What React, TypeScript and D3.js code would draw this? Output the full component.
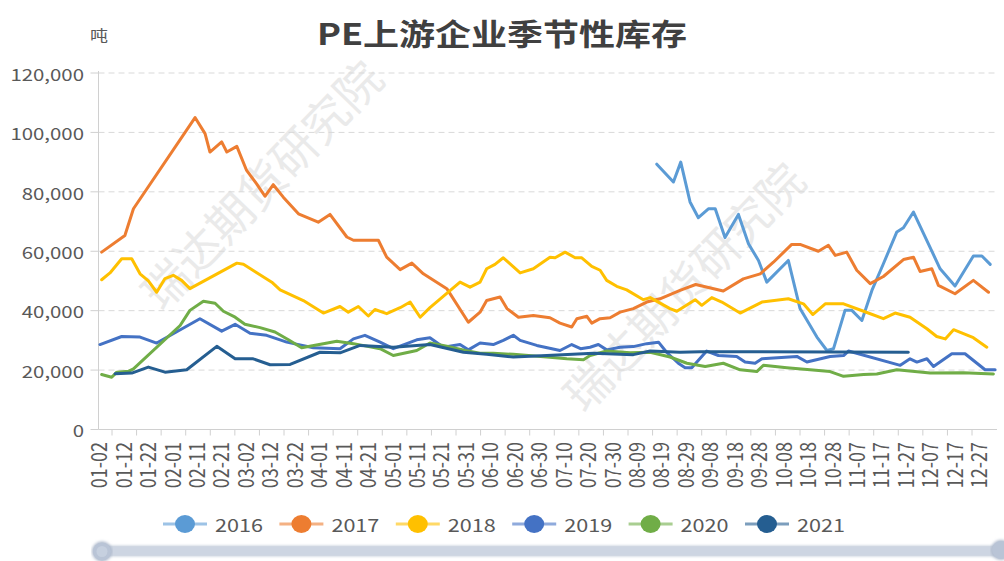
import React from 'react';
import * as d3 from 'd3';

const TITLE = 'PE上游企业季节性库存';
const UNIT = '吨';
const WATERMARK = '瑞达期货研究院';
const YEARS = ['2016', '2017', '2018', '2019', '2020', '2021'];
const COLORS = ['#5b9bd5', '#ed7d31', '#ffc000', '#4472c4', '#70ad47', '#255e91'];
const X_LABELS = ['01-02', '01-12', '01-22', '02-01', '02-11', '02-21', '03-02', '03-12', '03-22', '04-01', '04-11', '04-21', '05-01', '05-11', '05-21', '05-31', '06-10', '06-20', '06-30', '07-10', '07-20', '07-30', '08-09', '08-19', '08-29', '09-08', '09-18', '09-28', '10-08', '10-18', '10-28', '11-07', '11-17', '11-27', '12-07', '12-17', '12-27'];
const Y_TICKS = [0, 20000, 40000, 60000, 80000, 100000, 120000];

// [day offset from 01-02, tons]
const S2016: [number, number][] = [[228.6, 89300], [235.4, 83300], [238.4, 90000], [242.2, 76600], [245.6, 71300], [249.7, 74300], [252.5, 74300], [256.5, 64600], [262, 72400], [266.1, 62500], [270.2, 56900], [273.6, 49600], [282.4, 56900], [287.2, 40700], [294.1, 31100], [298.2, 26600], [300.9, 27200], [305.6, 40100], [308.4, 40100], [312.5, 36700], [316.6, 46800], [321.3, 55800], [326.8, 66500], [329.5, 67900], [333.6, 73200], [344.5, 54100], [350.6, 48300], [358.1, 58400], [361.6, 58400], [365, 55600]];
const S2017: [number, number][] = [[1.5, 59700], [11, 65300], [14.5, 74300], [39.7, 105000], [43.8, 99600], [45.8, 93400], [50.6, 96800], [52.7, 93400], [56.8, 95300], [60.8, 87200], [64.9, 82700], [68.3, 78500], [71.7, 82400], [75.8, 78200], [82, 72600], [90.1, 69800], [94.9, 72400], [101.8, 64800], [104.5, 63700], [114.7, 63700], [118.1, 58000], [123.6, 53800], [128.4, 56000], [133.1, 52400], [142.7, 47400], [151.5, 36100], [156.3, 39500], [159, 43400], [164.5, 44600], [167.3, 40700], [172, 37800], [178.1, 38400], [184.9, 37600], [189, 35800], [193.8, 34500], [195.9, 37300], [200, 38100], [202, 35800], [205.4, 37300], [209.5, 37600], [213.6, 39500], [219, 40700], [224.5, 42900], [229.9, 44000], [238.1, 46800], [244.5, 48800], [255.8, 46600], [264, 50700], [270.9, 52400], [276.3, 56300], [283.8, 62300], [287.2, 62300], [294.7, 60000], [298.8, 62000], [301.6, 58600], [306.3, 59700], [310.4, 53600], [315.9, 49100], [321.3, 51500], [329.5, 57200], [333.6, 58000], [336.3, 53200], [341.1, 54100], [343.8, 48500], [350.6, 45700], [358.1, 50200], [364.3, 46200]];
const S2018: [number, number][] = [[1.5, 50400], [4.9, 52700], [9.7, 57500], [13.8, 57500], [17.2, 52400], [20.6, 50000], [24, 46200], [27.4, 50800], [30.8, 51900], [34.2, 50200], [37.6, 47400], [56.8, 56000], [59.5, 55600], [71.1, 49600], [74.5, 47000], [84, 43400], [92.2, 39200], [99, 41400], [102.4, 39500], [106.5, 41400], [110.6, 38200], [113.3, 40400], [118.1, 39000], [123.6, 41000], [127.7, 42900], [131.8, 37800], [135.8, 41000], [148.1, 49600], [152.2, 47900], [156.3, 49600], [159, 54100], [162.4, 55600], [165.8, 57800], [172.7, 52700], [178.1, 54100], [184.9, 58000], [187, 57800], [191.1, 59700], [195.2, 57800], [197.9, 57800], [202, 54900], [205.4, 53600], [208.1, 50200], [212.2, 48200], [216.3, 47000], [223.1, 43700], [225.9, 44400], [234, 40700], [236.8, 39800], [244.3, 43700], [247, 41800], [251.1, 44400], [255.2, 42900], [262.7, 39200], [271.6, 42900], [282.4, 44000], [288.6, 42300], [292.4, 38700], [297.5, 42300], [305, 42300], [313.2, 39800], [321.3, 37300], [326.1, 39200], [332.2, 37800], [339.1, 33900], [343.1, 31300], [346.6, 30500], [350, 33600], [358.1, 30900], [363.6, 27700]];
const S2019: [number, number][] = [[0.8, 28600], [9.7, 31300], [17.2, 31100], [24, 29100], [41.7, 37300], [50.6, 33100], [56.1, 35400], [62.2, 32400], [69, 31700], [77.2, 29400], [88.1, 27500], [99, 27200], [104.5, 30500], [109.2, 31700], [115.4, 29400], [120.8, 27200], [126.3, 28900], [130.4, 30200], [135.8, 30900], [141.3, 27700], [148.1, 28600], [151.5, 26800], [156.3, 29100], [161.7, 28600], [165.8, 30000], [169.9, 31700], [172.7, 30000], [179.5, 28300], [189, 26600], [193.8, 28600], [197.4, 27200], [201.3, 27700], [204.7, 28600], [208.1, 26800], [213.6, 27700], [219, 27900], [224.5, 28900], [229.3, 29400], [232.6, 26000], [237.4, 22300], [240.2, 20800], [242.9, 20800], [249, 26400], [253.8, 24900], [261.3, 24600], [264.7, 22700], [268.8, 22300], [271.6, 23800], [285.9, 24600], [290, 22700], [299.5, 24600], [305, 24900], [307, 26400], [328.2, 21600], [332.2, 23800], [335, 22700], [339.1, 23800], [341.8, 21200], [349.3, 25500], [354.7, 25500], [362.9, 20100], [367, 20100]];
const S2020: [number, number][] = [[1.5, 18500], [5.6, 17600], [7.7, 19300], [12.4, 19600], [14.5, 20400], [33.6, 35000], [37.6, 40100], [43.1, 43200], [47.9, 42500], [51.3, 39800], [56.1, 37800], [60.1, 35400], [66.3, 34300], [72.4, 32800], [77.9, 30200], [83.3, 27500], [97.7, 29700], [104.5, 28900], [115.4, 27200], [120.8, 24900], [130.4, 26600], [135.8, 29100], [142.7, 28000], [150.2, 26600], [156.3, 25700], [161.7, 25700], [169.9, 25300], [183.6, 24400], [191.8, 23800], [198.6, 23500], [201.3, 24900], [208.1, 26400], [217.7, 25800], [225.9, 26000], [234, 24400], [240.9, 22300], [248.4, 21200], [255.8, 22300], [262.7, 20100], [269.5, 19500], [272.2, 21600], [281.8, 20800], [291.3, 20100], [299.5, 19500], [305, 17900], [313.2, 18500], [318.6, 18700], [326.8, 20100], [340.4, 19000], [354, 19100], [366.3, 18700]];
const S2021: [number, number][] = [[7, 18800], [13.8, 19000], [20.6, 21000], [27.4, 19300], [36.3, 20100], [48.6, 28000], [56.1, 23800], [63.5, 23800], [70.4, 21800], [78.6, 21900], [90.8, 26000], [99, 25800], [107.2, 28300], [120.8, 27700], [135.8, 28600], [149.5, 26000], [159, 25300], [169.9, 24400], [183.6, 24900], [202.7, 25700], [219, 25200], [225.9, 26400], [238.1, 26000], [246.3, 26200], [331.5, 26000]];
const SERIES = [S2016, S2017, S2018, S2019, S2020, S2021];

const W = 1004;
const H = 561;
const SX = 1.2;
const FONT = "'Microsoft YaHei', 'Noto Sans CJK SC', 'Noto Sans', sans-serif";

function T(props: any) {
  const { x, y, rotate, children, ...rest } = props;
  const tr = `translate(${x},${y}) scale(${SX},1)` + (rotate ? ` rotate(${rotate})` : '');
  return (
    <text transform={tr} fontFamily={FONT} {...rest}>
      {children}
    </text>
  );
}

export default function App() {
  const left = 98.5;
  const right = 997;
  const top = 73;
  const bottom = 429.5;
  const x = d3.scaleLinear().domain([0, 360]).range([98, 978]);
  const y = d3.scaleLinear().domain([0, 120000]).range([bottom, top]);
  const tickX = d3.scaleLinear().domain([0, 35]).range([112, 972]);
  const line = d3
    .line<[number, number]>()
    .x((d) => x(d[0]))
    .y((d) => y(d[1]));

  const legendX = d3.scalePoint<string>().domain(YEARS).range([185, 767]);
  const legendY = 524;

  return (
    <div style={{ position: 'fixed', left: 0, top: 0 }}>
      <svg width={W} height={H} style={{ display: 'block', background: '#fff' }}>
        {/* watermarks */}
        <text
          transform="translate(260,183) rotate(-46)"
          textAnchor="middle"
          dominantBaseline="central"
          fontFamily={FONT}
          fontSize={46}
          fill="#eaeaea"
        >
          {WATERMARK}
        </text>
        <text
          transform="translate(682,285) rotate(-46)"
          textAnchor="middle"
          dominantBaseline="central"
          fontFamily={FONT}
          fontSize={46}
          fill="#eaeaea"
        >
          {WATERMARK}
        </text>

        {/* grid + y axis labels */}
        {Y_TICKS.map((t) => (
          <g key={t}>
            {t > 0 && (
              <line x1={left} x2={right} y1={y(t)} y2={y(t)} stroke="#d9d9d9" strokeDasharray="6,4" />
            )}
            <line x1={left - 8} x2={left} y1={y(t)} y2={y(t)} stroke="#d0d0d0" />
            <T x={84} y={y(t)} textAnchor="end" dominantBaseline="central" fontSize={17} fill="#595959">
              {d3.format(',')(t)}
            </T>
          </g>
        ))}
        <line x1={left} x2={left} y1={top - 2} y2={bottom} stroke="#d0d0d0" />
        <line x1={left} x2={right} y1={bottom} y2={bottom} stroke="#d0d0d0" />
        {d3.range(36).map((i) => (
          <line key={i} x1={tickX(i)} x2={tickX(i)} y1={bottom} y2={bottom + 6} stroke="#d0d0d0" />
        ))}
        {X_LABELS.map((l, i) => (
          <T
            key={l}
            x={x(i * 10)}
            y={442}
            rotate={-90}
            textAnchor="end"
            dominantBaseline="central"
            fontSize={18}
            fill="#595959"
          >
            {l}
          </T>
        ))}

        {/* unit & title */}
        <T x={99} y={35} textAnchor="middle" dominantBaseline="central" fontSize={15} fill="#595959">
          {UNIT}
        </T>
        <T x={502} y={45} textAnchor="middle" fontSize={30} fontWeight="bold" fill="#404040">
          {TITLE}
        </T>

        {/* series */}
        {SERIES.map((s, i) => (
          <path
            key={YEARS[i]}
            d={line(s) || ''}
            fill="none"
            stroke={COLORS[i]}
            strokeWidth={3}
            strokeLinejoin="round"
            strokeLinecap="round"
          />
        ))}

        {/* legend */}
        {YEARS.map((yr, i) => {
          const cx = legendX(yr) as number;
          return (
            <g key={yr}>
              <line x1={cx - 22} x2={cx + 22} y1={legendY} y2={legendY} stroke={COLORS[i]} strokeOpacity={0.6} strokeWidth={3} />
              <ellipse cx={cx} cy={legendY} rx={10} ry={9} fill={COLORS[i]} />
              <T x={cx + 30} y={legendY} dominantBaseline="central" fontSize={18} fill="#595959">
                {yr}
              </T>
            </g>
          );
        })}

        {/* data zoom slider */}
        <defs>
          <filter id="sh" x="-5%" y="-50%" width="110%" height="200%">
            <feGaussianBlur stdDeviation="1.5" />
          </filter>
        </defs>
        <rect x={95} y={546} width={905} height={10} rx={5} fill="#b8c2d2" filter="url(#sh)" />
        <rect x={95} y={546.5} width={905} height={9} rx={4.5} fill="#cdd5e2" />
        <circle cx={102} cy={551.5} r={10} fill="#aab6c9" filter="url(#sh)" />
        <circle cx={102} cy={551.5} r={9} fill="#b9c4d6" />
        <circle cx={102} cy={551.5} r={5.5} fill="#c6d0df" />
        <circle cx={1001} cy={550} r={10} fill="#aab6c9" filter="url(#sh)" />
        <circle cx={1001} cy={550} r={9} fill="#b9c4d6" />
      </svg>
    </div>
  );
}
